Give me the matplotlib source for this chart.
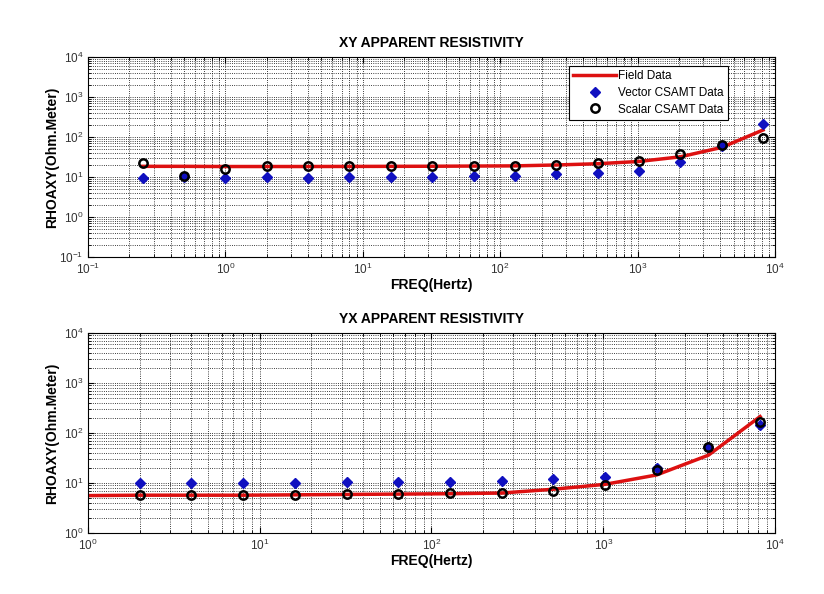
import matplotlib
matplotlib.use("Agg")
import matplotlib.pyplot as plt
from matplotlib.ticker import LogLocator, LogFormatterMathtext, NullFormatter

plt.rcParams["font.family"] = ["Liberation Sans", "DejaVu Sans"]
plt.rcParams["mathtext.default"] = "regular"

# XY component
xy_freq = [0.25, 0.5, 1, 2, 4, 8, 16, 32, 64, 128, 256, 512, 1024, 2048, 4096, 8192]
xy_field = [18.5, 18.5, 18.3, 18.3, 18.3, 18.4, 18.5, 18.6, 18.8, 19.0, 20.0, 21.5, 24.5, 32, 55, 150]
xy_vector = [9.5, 10.2, 9.6, 9.8, 9.5, 9.8, 9.8, 10.0, 10.5, 10.6, 12.0, 12.8, 14.5, 23.5, 60, 210]
xy_scalar = [22, 10.7, 15.5, 19, 19, 19, 19, 19, 19, 19, 20, 22, 25.5, 37, 62, 94]

# YX component
yx_field_freq = [1, 2, 4, 8, 16, 32, 64, 128, 256, 512, 1024, 2048, 4096, 8192]
yx_field = [5.6, 5.7, 5.7, 5.7, 5.8, 5.9, 6.0, 6.1, 6.3, 7.5, 9.4, 14.5, 36, 213]
yx_freq = [2, 4, 8, 16, 32, 64, 128, 256, 512, 1024, 2048, 4096, 8192]
yx_vector = [9.8, 9.8, 9.8, 9.9, 10.3, 10.3, 10.6, 11.0, 11.8, 13.4, 20, 53, 142]
yx_scalar = [5.75, 5.75, 5.75, 5.8, 6.0, 6.1, 6.4, 6.2, 6.8, 9.1, 18.2, 52, 166]


def style_axes(ax, xlim, ylim, title):
    ax.set_xscale("log")
    ax.set_yscale("log")
    ax.set_xlim(*xlim)
    ax.set_ylim(*ylim)
    ax.xaxis.set_major_locator(LogLocator(base=10, numticks=20))
    ax.yaxis.set_major_locator(LogLocator(base=10, numticks=20))
    ax.xaxis.set_minor_locator(LogLocator(base=10, subs=range(2, 10), numticks=100))
    ax.yaxis.set_minor_locator(LogLocator(base=10, subs=range(2, 10), numticks=100))
    ax.xaxis.set_major_formatter(LogFormatterMathtext())
    ax.yaxis.set_major_formatter(LogFormatterMathtext())
    ax.xaxis.set_minor_formatter(NullFormatter())
    ax.yaxis.set_minor_formatter(NullFormatter())
    ax.grid(True, which="both", linestyle=":", color="black", linewidth=0.6)
    ax.tick_params(which="both", direction="in", top=True, right=True,
                   labelsize=8.5, labelcolor="#333333")
    ax.tick_params(which="major", length=4)
    ax.tick_params(which="minor", length=2)
    ax.set_title(title, fontsize=10, fontweight="bold", pad=7)
    ax.set_xlabel("FREQ(Hertz)", fontsize=10, fontweight="bold", labelpad=1)
    ax.set_ylabel("RHOAXY(Ohm.Meter)", fontsize=10, fontweight="bold")
    # keep both y labels at the same place regardless of tick label width
    ax.yaxis.set_label_coords(-0.042, 0.5)
    for s in ax.spines.values():
        s.set_linewidth(0.8)


fig = plt.figure(figsize=(8.24, 5.94), dpi=100)
ax1 = fig.add_axes([0.1068, 0.5673, 0.8337, 0.3367])
ax2 = fig.add_axes([0.1068, 0.1027, 0.8337, 0.3367])

ax1.plot(xy_freq, xy_field, "-", color="#dd1111", linewidth=2.5, label="Field Data")
ax1.plot(xy_freq, xy_vector, "D", color="#1010c0", markersize=5, label="Vector CSAMT Data")
ax1.plot(xy_freq, xy_scalar, "o", markerfacecolor="none", markeredgecolor="black",
         markeredgewidth=1.8, markersize=6, label="Scalar CSAMT Data")
style_axes(ax1, (0.1, 1e4), (0.1, 1e4), "XY APPARENT RESISTIVITY")
leg = ax1.legend(loc="upper right", bbox_to_anchor=(0.9316, 0.955), borderaxespad=0,
                 fontsize=8.5, fancybox=False, framealpha=1, edgecolor="black",
                 borderpad=0.35, labelspacing=0.4, handlelength=3.6, handletextpad=0.2)
leg.get_frame().set_linewidth(0.8)

ax2.plot(yx_field_freq, yx_field, "-", color="#dd1111", linewidth=2.5)
ax2.plot(yx_freq, yx_vector, "D", color="#1010c0", markersize=5)
ax2.plot(yx_freq, yx_scalar, "o", markerfacecolor="none", markeredgecolor="black",
         markeredgewidth=1.8, markersize=6)
style_axes(ax2, (1, 1e4), (1, 1e4), "YX APPARENT RESISTIVITY")

fig.savefig("out.png", dpi=100)
